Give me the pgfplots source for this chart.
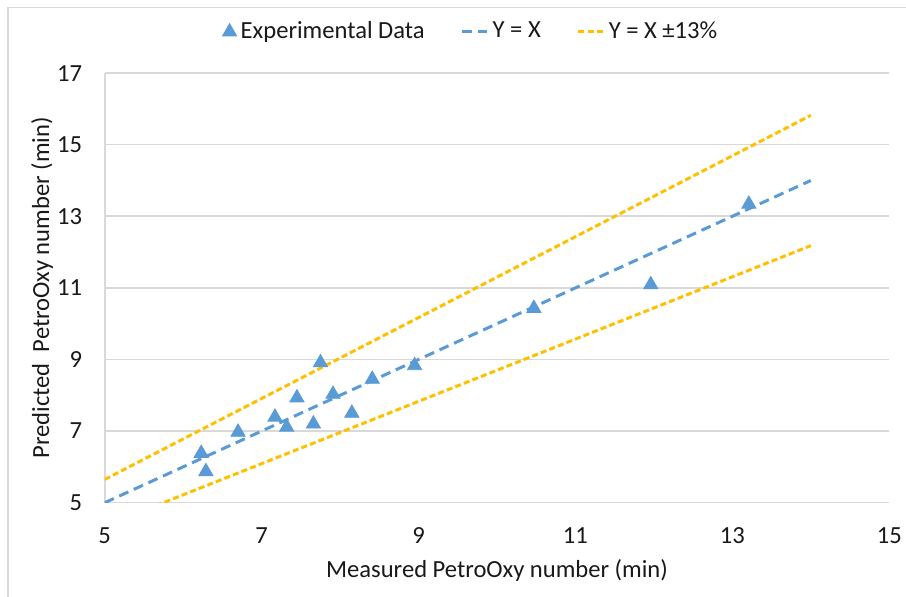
\documentclass[border=0pt]{standalone}
\usepackage{fontspec}
\setmainfont{Carlito}
\usepackage{pgfplots}
\pgfplotsset{compat=1.18}
\definecolor{xblue}{HTML}{5B9BD5}
\definecolor{xgold}{HTML}{FFC000}
\definecolor{xgrid}{HTML}{D9D9D9}
\pgfplotsset{shortline/.style={legend image code/.code={\draw[##1] (0pt,0pt) -- (12.5pt,0pt);}}}

\begin{document}
\fontsize{12.3pt}{14pt}\selectfont
\begin{tikzpicture}
\path[use as bounding box] (0,0) rectangle (453pt,298.5pt);
\draw[xgrid, line width=0.6pt] (4pt,0) -- (4pt,294.8pt) -- (453pt,294.8pt);
\begin{axis}[
    at={(52.35pt,47.15pt)}, anchor=south west,
    scale only axis, width=392.3pt, height=214.8pt,
    xmin=5, xmax=15, ymin=5, ymax=17,
    xtick={5,7,...,15}, ytick={5,7,...,17},
    axis x line=bottom, axis y line=left,
    axis line style={xgrid, line width=0.8pt, -},
    major tick length=0pt,
    ymajorgrids, grid style={xgrid, line width=0.8pt},
    /pgf/number format/assume math mode=true,
    ticklabel style={font=\fontsize{12.3pt}{14pt}\selectfont, text=black!90},
    xticklabel style={yshift=-8pt},
    yticklabel style={xshift=-7pt},
    xlabel={Measured PetroOxy number (min)},
    ylabel={Predicted\ \ PetroOxy number (min)},
    label style={font=\fontsize{12.3pt}{14pt}\selectfont, text=black!90},
    xlabel style={at={(axis description cs:0.5,-0.1567)}, anchor=center},
    ylabel style={at={(axis description cs:-0.0799,0.5)}, anchor=center},
    clip=true,
    legend columns=3,
    legend style={draw=none, fill=none, at={(0.468,1.096)}, anchor=center,
        font=\fontsize{12.3pt}{14pt}\selectfont, text=black!90,
        /tikz/every even column/.append style={column sep=16pt}},
]
\addplot[only marks, mark=triangle*, mark size=4.1pt, color=xblue] coordinates {
    (6.23,6.38) (6.29,5.87) (6.70,6.97) (7.17,7.39) (7.32,7.11)
    (7.45,7.93) (7.66,7.20) (7.75,8.91) (7.91,8.03) (8.15,7.50)
    (8.41,8.45) (8.95,8.83) (10.47,10.43) (11.96,11.09) (13.21,13.34)
};
\addlegendentry{Experimental Data}
\addplot[xblue, line width=1.5pt, dash pattern=on 5pt off 3pt, shortline]
    coordinates {(5,5) (14,14)};
\addlegendentry{Y = X}
\addplot[xgold, line width=1.5pt, dash pattern=on 3pt off 1.6pt, shortline]
    coordinates {(5,5.65) (14,15.82)};
\addlegendentry{Y = X ±13\%}
\addplot[xgold, line width=1.5pt, dash pattern=on 3pt off 1.6pt, forget plot]
    coordinates {(5,4.35) (14,12.18)};
\end{axis}
\end{tikzpicture}
\end{document}
